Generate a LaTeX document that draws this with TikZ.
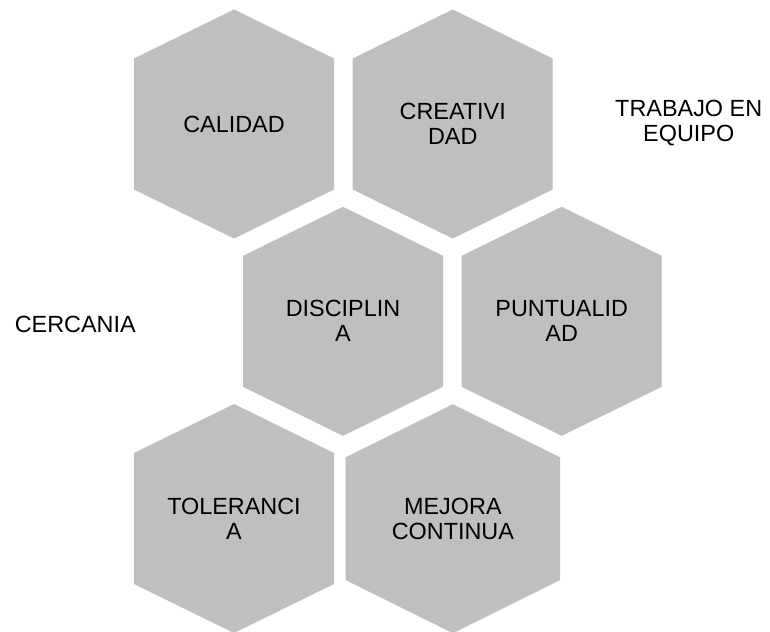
\documentclass[tikz,border=0pt]{standalone}
\usepackage{fontspec}
\setmainfont{Liberation Sans}
\definecolor{hexgray}{RGB}{191,191,191}
\begin{document}
\begin{tikzpicture}[x=1pt,y=-1pt,
  hexlabel/.style={align=center,font=\fontsize{23.4}{25}\selectfont,text=black,inner sep=0pt},
  hexfill/.style={fill=hexgray,draw=none}]
\useasboundingbox (0,0) rectangle (770,631);
\clip (0,0) rectangle (770,631);
% #1,#2 centre; #3 half width; #4 half side; #5 name; #6 text
\newcommand\hexcellgen[6]{%
  \fill[hexfill] (#1,#2) ++(0,-114.5) -- ++(#3,{114.5-#4}) -- ++(0,{2*#4}) -- ++(-#3,{114.5-#4})
     -- ++(-#3,{#4-114.5}) -- ++(0,{-2*#4}) -- cycle;
  \node[hexlabel] (#5) at (#1,#2) {#6};
}
\newcommand\hexcell[4]{\hexcellgen{#1}{#2}{100}{65.5}{#3}{#4}}
\hexcell{234}{124}{calidad}{CALIDAD}
\hexcell{452.7}{124}{creatividad}{CREATIVI\\DAD}
\hexcell{343}{321.3}{disciplina}{DISCIPLIN\\A}
\hexcell{561.7}{321.3}{puntualidad}{PUNTUALID\\AD}
\hexcell{234}{518.5}{tolerancia}{TOLERANCI\\A}
\hexcellgen{452.85}{518.7}{107.2}{61.4}{mejora}{MEJORA\\CONTINUA}
\node[hexlabel] (trabajo) at (688.7,123.2) {TRABAJO EN\\EQUIPO};
\node[hexlabel] (cercania) at (75.3,324) {CERCANIA};
\end{tikzpicture}
\end{document}
